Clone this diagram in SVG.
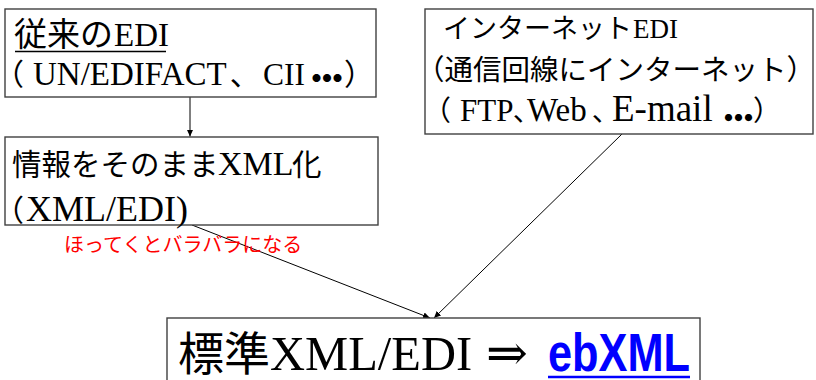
<svg xmlns="http://www.w3.org/2000/svg" width="816" height="380" viewBox="0 0 816 380">
<style>
.box{fill:#fff;stroke:#404040;stroke-width:1.4}
.jp{font-family:"Noto Sans CJK JP","Noto Sans",sans-serif}
.la{font-family:"Liberation Serif","Times New Roman",serif}
.p{font-feature-settings:"palt"}
.t{fill:#000}
.conn{stroke:#000;stroke-width:1;fill:none}
</style>
<defs>
<marker id="arr" markerWidth="8" markerHeight="8" refX="7" refY="4" orient="auto" markerUnits="userSpaceOnUse">
<path d="M0,0.8 L7,4 L0,7.2 Z" fill="#000"/>
</marker>
</defs>
<rect width="816" height="380" fill="#fff"/>
<g id="connectors">
<line class="conn" x1="190" y1="97" x2="190" y2="136.5" marker-end="url(#arr)"/>
<line class="conn" x1="192" y1="225" x2="430" y2="318" marker-end="url(#arr)"/>
<line class="conn" x1="622" y1="134" x2="434" y2="318" marker-end="url(#arr)"/>
</g>
<g id="node-legacy-edi">
<rect class="box" x="5" y="9" width="371" height="88"/>
<text class="t" y="46"><tspan class="jp" x="14" font-size="33">従来の</tspan><tspan class="la" x="114" font-size="33">EDI</tspan></text>
<line x1="15" y1="51.5" x2="166" y2="51.5" stroke="#000" stroke-width="1.5"/>
<text class="t" y="85"><tspan class="jp p" x="8" font-size="30">（</tspan><tspan class="la" x="33" font-size="33">UN/EDIFACT</tspan><tspan class="jp p" x="230" font-size="30">、</tspan><tspan class="la" x="263" font-size="31.5">CII</tspan><tspan class="jp p" x="307 317.5 328" dy="6.5" font-size="38">・・・</tspan><tspan class="jp p" x="345" dy="-6.5" font-size="30">）</tspan></text>
</g>
<g id="node-xml-edi">
<rect class="box" x="5" y="137" width="373" height="88"/>
<text class="t" y="175"><tspan class="jp" x="12" font-size="29.5">情報をそのまま</tspan><tspan class="la" x="218" font-size="34">XML</tspan><tspan class="jp" x="292" font-size="29.5">化</tspan></text>
<text class="t" y="221"><tspan class="jp p" x="8" font-size="30">（</tspan><tspan class="la" x="26" font-size="36">XML/EDI)</tspan></text>
</g>
<g id="node-internet-edi">
<rect class="box" x="425" y="9" width="388" height="125"/>
<text class="t" y="38"><tspan class="jp" x="443" font-size="27">インターネット</tspan><tspan class="la" x="633" font-size="27">EDI</tspan></text>
<text class="t jp" y="80" x="416" font-size="28.5">（通信回線にインターネット）</text>
<text class="t" y="121"><tspan class="jp p" x="436" font-size="28">（</tspan><tspan class="la" x="460" font-size="31">FTP</tspan><tspan class="jp p" x="513" font-size="28">、</tspan><tspan class="la" x="527" font-size="33">Web</tspan><tspan class="jp p" x="592" font-size="28">、</tspan><tspan class="la" x="612" font-size="37">E-mail</tspan><tspan class="jp p" x="720 730 740" dy="9.5" font-size="34">・・・</tspan><tspan class="jp p" x="754" dy="-9.5" font-size="28">）</tspan></text>
</g>
<g id="note">
<text class="jp" x="64" y="252" font-size="20" fill="#ff0000">ほってくとバラバラになる</text>
</g>
<g id="node-standard">
<rect class="box" x="167" y="318" width="533" height="80"/>
<text class="t" y="370"><tspan class="jp" x="178" font-size="46">標準</tspan><tspan class="la" x="270" font-size="48.5">XML/EDI</tspan><tspan font-family="DejaVu Serif,serif" x="486" font-size="50">⇒</tspan></text>
<text x="548" y="371" font-family="'Liberation Sans Narrow','Arial Narrow','Liberation Sans',sans-serif" font-weight="bold" font-size="53" fill="#0000ff" textLength="142" lengthAdjust="spacingAndGlyphs">ebXML</text>
<line x1="548" y1="377" x2="690" y2="377" stroke="#0000ff" stroke-width="2.5"/>
</g>
</svg>
